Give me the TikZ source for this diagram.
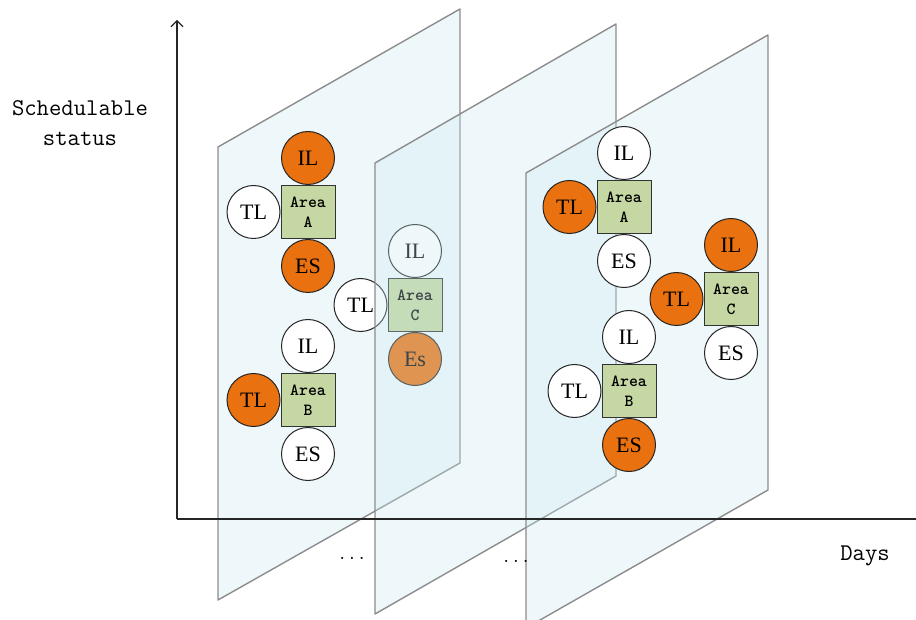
\documentclass[tikz,border=0pt]{standalone}
\usepackage{fontspec}
\usetikzlibrary{positioning,arrows.meta}
\newfontfamily\circfont{Liberation Serif}
\definecolor{planefill}{RGB}{200,232,240}
\definecolor{planeedge}{RGB}{140,140,140}
\definecolor{hot}{RGB}{233,113,15}
\definecolor{areagreen}{RGB}{197,215,162}
\tikzset{
  plane/.style={fill=planefill, fill opacity=0.3, draw=planeedge, line width=1.4pt, line join=round},
  status/.style={circle, draw=black!85, line width=1pt, minimum size=53pt, inner sep=0pt,
                 font=\circfont\fontsize{22}{22}\selectfont},
  hotcirc/.style={status, fill=hot},
  coldcirc/.style={status, fill=white},
  areabox/.style={rectangle, draw=black!80, line width=1pt, fill=areagreen,
                  minimum width=54pt, minimum height=53pt, inner sep=0pt, align=center,
                  font=\ttfamily\bfseries\fontsize{17}{20}\selectfont},
  axisline/.style={draw=black!85, line width=1.1pt},
  axislabel/.style={font=\ttfamily\fontsize{24}{30}\selectfont, align=center},
  gapdots/.style={font=\ttfamily\fontsize{19}{19}\selectfont, anchor=base, inner sep=0pt}
}
% one area: box with IL above, TL to the left, ES below
% #1 name, #2 centre, #3 area letter, #4 IL style, #5 TL style, #6 ES style, #7 ES text
\newcommand\areagroup[7]{%
  \node[areabox] (#1) at (#2) {Area\\#3};
  \node[#4, above=0pt of #1] (#1-il) {IL};
  \node[#5, left=0pt of #1] (#1-tl) {TL};
  \node[#6, below=0pt of #1] (#1-es) {#7};
}
\begin{document}
\begin{tikzpicture}[x=1pt, y=-1pt]
  \useasboundingbox (0,0) rectangle (916,620);
  \clip (0,0) rectangle (916,620);

  % first day
  \draw[plane] (218,147) -- (460,9) -- (460,463) -- (218,600) -- cycle;
  \areagroup{d1a}{308,212}{A}{hotcirc}{coldcirc}{hotcirc}{ES}
  \areagroup{d1b}{308,400}{B}{coldcirc}{hotcirc}{coldcirc}{ES}

  % second day (area sits behind its plane)
  \areagroup{d2c}{415,305}{C}{coldcirc}{coldcirc}{hotcirc}{Es}
  \draw[plane] (375,163) -- (616,24) -- (616,476) -- (375,614) -- cycle;

  % last day
  \draw[plane] (526,173) -- (768,35) -- (768,490) -- (526,628) -- cycle;
  \areagroup{d3a}{624,207}{A}{coldcirc}{hotcirc}{coldcirc}{ES}
  \areagroup{d3b}{629,391}{B}{coldcirc}{coldcirc}{hotcirc}{ES}
  \areagroup{d3c}{731,299}{C}{hotcirc}{hotcirc}{coldcirc}{ES}

  % axes
  \coordinate (origin) at (177,519);
  \coordinate (ytip) at (177,20);
  \coordinate (xend) at (916,519);
  \draw[axisline, -{Straight Barb[length=6pt, width=12pt]}] (origin) -- (ytip);
  \draw[axisline] (origin) -- (xend);

  \node[axislabel] (ylabel) at (80,123) {Schedulable\\status};
  \node[axislabel] (xlabel) at (865,556) {Days};
  \node[gapdots] (gap1) at (352,559) {...};
  \node[gapdots] (gap2) at (516,562) {...};
\end{tikzpicture}
\end{document}
